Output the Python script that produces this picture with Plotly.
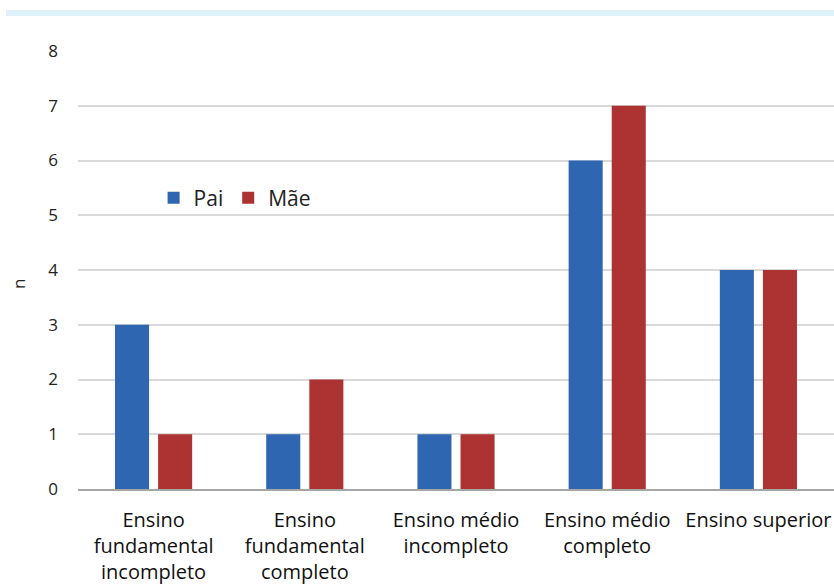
import plotly.graph_objects as go

categories = [
    "Ensino<br>fundamental<br>incompleto",
    "Ensino<br>fundamental<br>completo",
    "Ensino médio<br>incompleto",
    "Ensino médio<br>completo",
    "Ensino superior",
]
pai = [3, 1, 1, 6, 4]
mae = [1, 2, 1, 7, 4]
y_ticks = [0, 1, 2, 3, 4, 5, 6, 7, 8]

FONT = "Open Sans"

fig = go.Figure()
fig.add_trace(go.Bar(name="Pai", x=categories, y=pai, marker=dict(color="#2e66b1", line=dict(width=0))))
fig.add_trace(go.Bar(name="Mãe", x=categories, y=mae, marker=dict(color="#ad3232", line=dict(width=0))))

fig.update_layout(
    width=834, height=586,
    margin=dict(l=78, r=0, t=51, b=97),
    paper_bgcolor="white", plot_bgcolor="white",
    barmode="group", bargap=0.43, bargroupgap=0.21,
    font=dict(family=FONT, color="#222222"),
    legend=dict(orientation="h", x=0.100, y=0.664, xanchor="left", yanchor="middle",
                font=dict(size=21, family=FONT, color="#222222"), bgcolor="rgba(0,0,0,0)",
                itemwidth=30, traceorder="normal"),
    xaxis=dict(showgrid=False, showline=True, linecolor="#a6a6a6", linewidth=1.5,
               tickfont=dict(size=20, family=FONT, color="#111111"), ticks="",
               ticklabelstandoff=12),
    yaxis=dict(range=[0, 8], tickvals=y_ticks, showgrid=True, gridcolor="#d9d9d9", gridwidth=1.5,
               zeroline=False, showline=False, ticks="",
               tickfont=dict(size=17, family=FONT, color="#222222"), ticklabelstandoff=19),
    annotations=[dict(text="n", xref="paper", yref="paper", x=-0.0794, y=0.468,
                      xanchor="center", yanchor="middle", textangle=-90, showarrow=False,
                      font=dict(size=17, family=FONT, color="#222222"))],
    shapes=[dict(type="rect", xref="paper", yref="paper", x0=-0.0952, x1=1.0, y0=1.0799, y1=1.0936,
                 fillcolor="#dff2fa", line=dict(width=0), layer="below")],
)

fig.write_html("out.html")
